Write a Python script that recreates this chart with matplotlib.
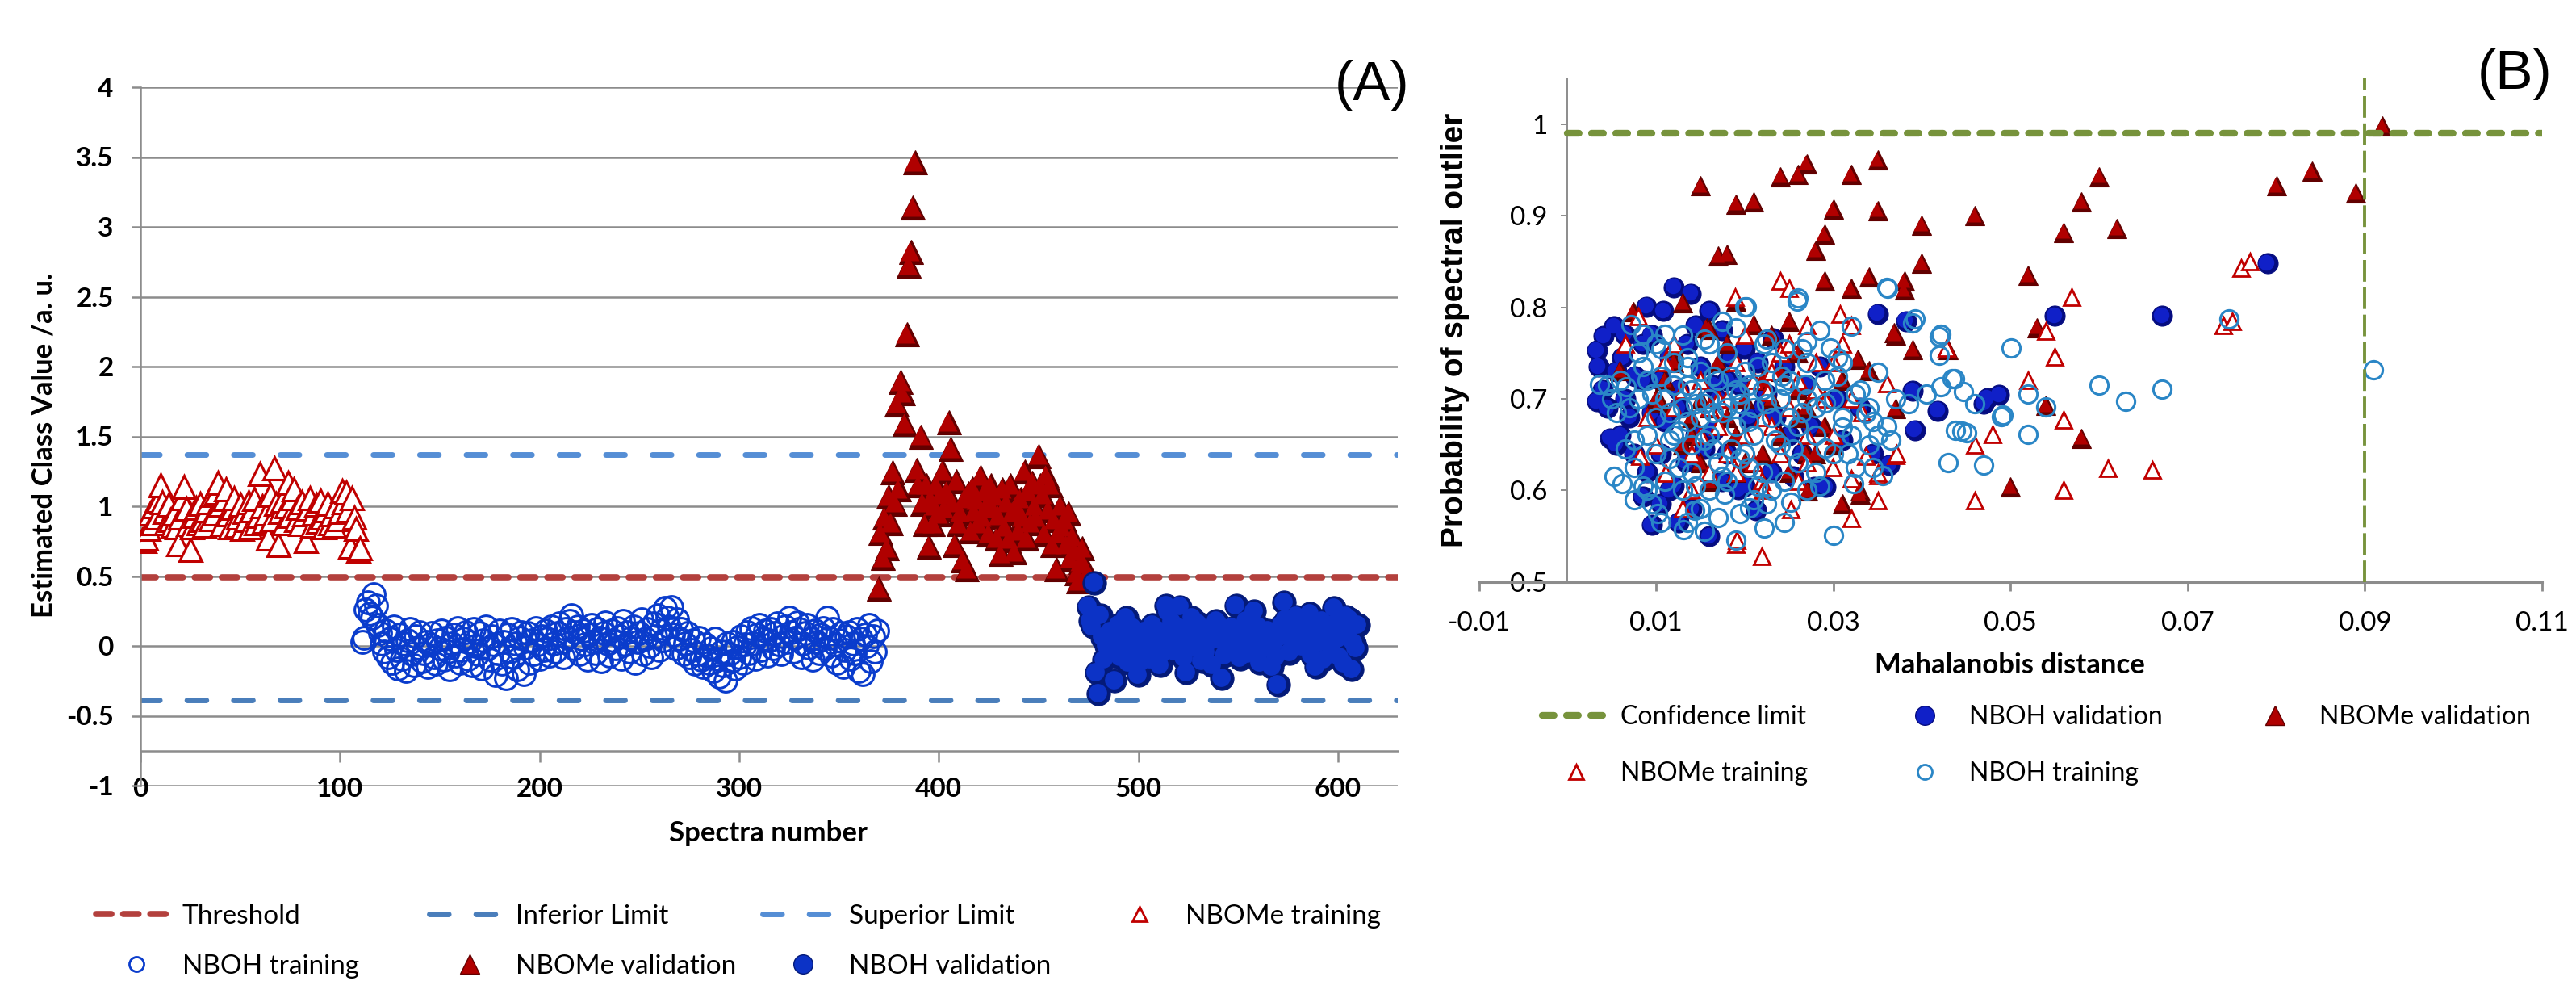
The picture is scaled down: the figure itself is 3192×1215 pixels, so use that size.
import numpy as np
import matplotlib
matplotlib.use('Agg')
import matplotlib.pyplot as plt
from matplotlib.lines import Line2D
from matplotlib.transforms import offset_copy

plt.rcParams['font.family'] = ['Lato', 'DejaVu Sans']
NARROW = ['Liberation Sans Narrow', 'Lato', 'DejaVu Sans']

# ---------------- panel A : estimated class value vs spectrum number ----------------
nbome_train_y = [0.76, 0.75, 0.77, 0.84, 0.95, 0.88, 1.00, 0.92, 1.04, 1.15,
                 1.03, 0.96, 0.88, 1.01, 0.90, 0.86, 0.95, 0.85, 0.73, 0.92,
                 1.06, 1.14, 0.98, 0.87, 0.69, 0.85, 0.93, 0.99, 0.88, 1.02,
                 0.90, 0.86, 0.97, 1.03, 0.91, 1.08, 0.95, 1.10, 1.17, 1.01,
                 0.87, 1.05, 1.12, 0.94, 0.85, 0.99, 1.06, 0.86, 0.92, 1.01,
                 0.84, 0.96, 0.90, 1.03, 0.85, 0.97, 1.05, 0.88, 0.93, 1.23,
                 1.00, 0.89, 0.95, 0.77, 1.08, 0.91, 1.27, 1.02, 0.72, 0.96,
                 1.04, 0.88, 1.00, 1.17, 0.93, 1.06, 1.12, 0.90, 0.99, 0.87,
                 1.03, 0.94, 0.75, 0.98, 1.06, 0.86, 0.95, 1.01, 0.89, 1.04,
                 0.92, 0.85, 0.97, 1.02, 0.88, 0.94, 0.86, 1.00, 0.91, 0.96,
                 1.11, 1.03, 1.10, 0.97, 0.71, 1.06, 0.92, 0.84, 0.68, 0.70]

nboh_train_y = [0.03, 0.06, 0.26, 0.31, 0.23, 0.20, 0.37, 0.29, 0.15, 0.09, 0.02, -0.04, 0.11, -0.08,
                0.05, -0.12, 0.14, -0.03, -0.16, 0.08, -0.09, 0.02, -0.18, 0.04,
                0.12, -0.06, -0.14, 0.07, -0.01, 0.10, -0.11, -0.05, 0.03, -0.15,
                0.01, 0.09, -0.08, -0.13, 0.04, -0.02, 0.11, -0.10, 0.06, -0.04,
                -0.17, 0.02, 0.08, -0.07, 0.13, -0.12, -0.03, 0.05, 0.10, -0.09,
                0.03, -0.14, 0.12, 0.00, -0.06, 0.09, -0.16, 0.04, 0.14, -0.02,
                -0.10, 0.07, 0.01, -0.21, -0.05, 0.11, -0.13, 0.03, -0.23, 0.08,
                -0.04, 0.12, -0.08, 0.02, -0.17, 0.06, 0.10, -0.20, -0.01, 0.09,
                -0.12, 0.04, -0.06, 0.13, 0.01, -0.09, 0.07, -0.03, 0.11, 0.05,
                -0.07, 0.14, 0.02, -0.04, 0.09, 0.16, 0.03, -0.08, 0.12, 0.06,
                0.18, 0.22, -0.02, 0.10, 0.14, -0.06, 0.05, 0.11, 0.01, -0.10,
                0.08, 0.15, 0.03, -0.05, 0.12, 0.06, -0.11, 0.09, 0.17, 0.02,
                -0.07, 0.11, 0.04, -0.02, 0.13, 0.07, -0.09, 0.18, 0.01, 0.10,
                -0.04, 0.06, 0.14, -0.12, 0.03, 0.09, 0.19, -0.06, 0.05, 0.12,
                0.00, -0.08, 0.16, 0.07, 0.22, -0.03, 0.11, 0.04, 0.27, 0.20,
                0.14, 0.28, 0.08, -0.02, 0.19, 0.05, 0.12, -0.06, 0.02, 0.09,
                -0.08, -0.03, 0.04, -0.13, -0.06, 0.06, -0.10, -0.15, 0.01, -0.07,
                -0.12, -0.02, -0.18, 0.05, -0.09, -0.22, -0.04, -0.14, -0.25, 0.02,
                -0.06, -0.11, 0.03, -0.16, -0.01, -0.08, 0.07, -0.12, 0.01, 0.10,
                -0.05, 0.13, 0.02, -0.09, 0.08, 0.15, -0.03, 0.05, 0.11, -0.07,
                0.04, 0.12, -0.02, 0.09, 0.16, 0.01, -0.06, 0.07, 0.14, 0.03,
                0.20, 0.10, -0.04, 0.06, 0.17, 0.12, -0.08, 0.02, 0.09, 0.15,
                -0.01, 0.05, -0.10, 0.11, 0.03, -0.05, 0.08, 0.13, -0.02, 0.20,
                0.06, -0.07, 0.12, 0.01, -0.12, 0.04, 0.09, -0.15, -0.03, 0.07,
                0.10, -0.09, 0.02, -0.05, 0.12, -0.18, 0.05, -0.20, 0.08, 0.00,
                0.15, -0.11, 0.07, -0.04, 0.11]

nbome_val_y = [0.41, 0.81, 0.63, 0.92, 0.70, 1.07, 0.88, 1.24, 1.02, 1.73,
               1.12, 1.89, 1.81, 1.59, 2.23, 2.72, 2.82, 3.14, 3.46, 1.26,
               1.15, 1.50, 1.02, 0.87, 1.15, 0.71, 1.05, 0.87, 1.00, 1.15,
               0.94, 1.08, 1.25, 0.98, 1.10, 1.60, 1.41, 1.02, 0.72, 1.18,
               0.87, 0.95, 0.61, 1.05, 0.55, 1.09, 0.82, 1.13, 0.96, 1.04,
               0.87, 1.21, 0.92, 1.10, 1.00, 0.80, 1.15, 0.98, 1.07, 0.77,
               0.93, 0.66, 1.12, 0.85, 1.02, 0.76, 1.15, 0.95, 0.67, 1.00,
               0.82, 1.05, 0.92, 1.25, 0.77, 1.10, 0.88, 1.17, 1.00, 0.92,
               1.36, 1.15, 1.08, 0.80, 1.22, 0.97, 1.15, 0.72, 0.90, 0.55,
               0.80, 1.00, 0.85, 0.90, 0.72, 0.95, 0.62, 0.78, 0.68, 0.52,
               0.46, 0.60, 0.70, 0.58, 0.50]

nboh_val_y = [0.28, 0.18, 0.14, 0.45, -0.19, -0.34, 0.22, 0.06, -0.10, 0.00,
              -0.02, 0.10, -0.05, -0.25, 0.04, 0.15, -0.08, 0.12, 0.02, 0.20,
              -0.12, 0.08, 0.13, -0.06, 0.03, -0.21, -0.12, 0.05, 0.10, -0.03,
              0.07, -0.10, 0.15, 0.06, -0.01, 0.11, -0.14, -0.06, 0.09, 0.29,
              0.24, 0.02, 0.17, -0.04, 0.08, 0.13, 0.28, 0.01, -0.09, -0.19,
              0.10, 0.05, 0.20, 0.12, -0.02, 0.16, 0.07, -0.11, 0.03, -0.05,
              0.02, 0.09, -0.14, 0.14, 0.18, 0.16, 0.04, -0.23, -0.07, 0.11,
              0.06, 0.00, 0.13, -0.03, 0.29, 0.08, -0.09, 0.12, 0.03, 0.18,
              -0.06, 0.10, -0.04, 0.25, 0.07, 0.14, -0.12, 0.02, 0.09, -0.02,
              0.11, 0.05, -0.15, 0.01, -0.08, -0.28, 0.06, 0.15, 0.31, 0.19,
              0.08, -0.05, 0.12, 0.03, 0.21, 0.15, 0.10, -0.01, 0.00, 0.17,
              0.06, 0.23, -0.07, 0.14, -0.15, 0.09, 0.02, 0.18, -0.10, 0.04,
              0.12, 0.07, -0.03, 0.27, 0.16, 0.05, -0.08, 0.11, -0.13, 0.21,
              0.08, 0.19, -0.17, 0.02, -0.02, 0.15]

threshold = 0.49
inferior_limit = -0.39
superior_limit = 1.37

# spectra are numbered one after the other, series by series
n1, n2, n3 = len(nbome_train_y), len(nboh_train_y), len(nbome_val_y)
nbome_train_x = np.arange(1, n1 + 1)
nboh_train_x = np.arange(n1 + 1, n1 + n2 + 1)
nbome_val_x = np.arange(n1 + n2 + 1, n1 + n2 + n3 + 1)
nboh_val_x = np.arange(n1 + n2 + n3 + 1, n1 + n2 + n3 + len(nboh_val_y) + 1)

# ---------------- panel B : outlier probability vs Mahalanobis distance ----------------
b_nbome_val_x = [0.092, 0.084, 0.080, 0.089, 0.060, 0.058, 0.056, 0.062, 0.046, 0.040,
                 0.040, 0.052, 0.053, 0.035, 0.035, 0.032, 0.027, 0.026, 0.024, 0.030,
                 0.029, 0.028, 0.021, 0.019, 0.015, 0.018, 0.017, 0.029, 0.032, 0.034,
                 0.038, 0.038, 0.013, 0.019, 0.025, 0.016, 0.0074, 0.037, 0.039, 0.043,
                 0.026, 0.058, 0.054, 0.050, 0.031, 0.033, 0.037, 0.012, 0.021, 0.0157,
                 0.0328, 0.034, 0.0059, 0.0105, 0.0271, 0.033, 0.0369, 0.015, 0.018, 0.022,
                 0.024, 0.027, 0.013, 0.020, 0.025, 0.028, 0.017, 0.023, 0.026, 0.011,
                 0.016, 0.019, 0.029, 0.031, 0.014,
                 0.012, 0.014, 0.016, 0.018, 0.020, 0.022, 0.024, 0.026, 0.028, 0.030,
                 0.010, 0.019, 0.023, 0.027, 0.015]
b_nbome_val_y = [0.998, 0.949, 0.933, 0.925, 0.943, 0.915, 0.882, 0.886, 0.900, 0.890,
                 0.848, 0.835, 0.778, 0.961, 0.906, 0.945, 0.957, 0.945, 0.943, 0.907,
                 0.880, 0.862, 0.915, 0.913, 0.933, 0.858, 0.856, 0.829, 0.821, 0.833,
                 0.829, 0.819, 0.805, 0.807, 0.785, 0.776, 0.795, 0.770, 0.754, 0.754,
                 0.750, 0.657, 0.693, 0.604, 0.585, 0.596, 0.689, 0.756, 0.781, 0.778,
                 0.743, 0.731, 0.731, 0.696, 0.599, 0.599, 0.772, 0.700, 0.680, 0.720,
                 0.660, 0.690, 0.650, 0.630, 0.620, 0.640, 0.740, 0.700, 0.710, 0.720,
                 0.610, 0.660, 0.670, 0.720, 0.680,
                 0.740, 0.660, 0.690, 0.760, 0.700, 0.640, 0.730, 0.680, 0.710, 0.650,
                 0.700, 0.620, 0.770, 0.640, 0.630]

b_nboh_val_x = [0.012, 0.0139, 0.0089, 0.0108, 0.016, 0.0033, 0.0041, 0.0053, 0.0033, 0.0048,
                0.0085, 0.0095, 0.016, 0.035, 0.0382, 0.039, 0.0418, 0.0392, 0.0363, 0.0474,
                0.0487, 0.0278, 0.0291, 0.0232, 0.017, 0.0076, 0.0193, 0.0213, 0.0134, 0.0105,
                0.055, 0.0671, 0.079, 0.047, 0.0062, 0.0095, 0.0115, 0.007, 0.006, 0.0125,
                0.015, 0.018, 0.020, 0.0245, 0.027, 0.022, 0.025, 0.009, 0.012, 0.014,
                0.018, 0.023, 0.0265, 0.031, 0.033, 0.0285, 0.004, 0.0055, 0.011, 0.0165,
                0.020, 0.0105,
                0.0045, 0.0065, 0.0085, 0.0105, 0.0125, 0.0145, 0.0165, 0.0185, 0.0205, 0.0225,
                0.0075, 0.0095, 0.0135, 0.0155, 0.0175, 0.0195, 0.0215, 0.0255, 0.0275, 0.0305,
                0.0345, 0.0065, 0.0115, 0.0145, 0.0175, 0.0235, 0.0035, 0.0055, 0.0085, 0.0125]
b_nboh_val_y = [0.822, 0.815, 0.801, 0.796, 0.796, 0.753, 0.769, 0.779, 0.697, 0.657,
                0.593, 0.562, 0.550, 0.793, 0.785, 0.709, 0.687, 0.666, 0.628, 0.701,
                0.704, 0.604, 0.604, 0.766, 0.699, 0.725, 0.601, 0.578, 0.631, 0.640,
                0.791, 0.791, 0.848, 0.695, 0.745, 0.770, 0.745, 0.680, 0.660, 0.710,
                0.735, 0.720, 0.755, 0.735, 0.715, 0.690, 0.660, 0.620, 0.605, 0.580,
                0.640, 0.620, 0.640, 0.655, 0.690, 0.735, 0.710, 0.730, 0.675, 0.665,
                0.605, 0.585,
                0.690, 0.700, 0.760, 0.720, 0.690, 0.660, 0.715, 0.745, 0.680, 0.705,
                0.640, 0.685, 0.760, 0.645, 0.610, 0.715, 0.740, 0.615, 0.670, 0.700,
                0.640, 0.770, 0.600, 0.780, 0.775, 0.680, 0.735, 0.650, 0.720, 0.565]

b_nbome_train_x = [0.076, 0.077, 0.074, 0.075, 0.0569, 0.054, 0.055, 0.052, 0.056, 0.048,
                   0.046, 0.061, 0.066, 0.056, 0.046, 0.035, 0.035, 0.037, 0.032, 0.0219,
                   0.019, 0.024, 0.025, 0.0308, 0.032, 0.027, 0.0189, 0.0332, 0.036, 0.0428,
                   0.0252, 0.0219, 0.0371, 0.035, 0.032, 0.0299, 0.0337, 0.0226, 0.031, 0.0082,
                   0.0111, 0.0191, 0.012, 0.015, 0.018, 0.020, 0.023, 0.025, 0.027, 0.029,
                   0.014, 0.017, 0.021, 0.024, 0.026, 0.028, 0.011, 0.016, 0.019, 0.022,
                   0.030, 0.013, 0.009, 0.0065, 0.008,
                   0.010, 0.012, 0.014, 0.016, 0.018, 0.020, 0.022, 0.024, 0.026, 0.028,
                   0.030, 0.032, 0.015, 0.019, 0.023, 0.027, 0.013, 0.021, 0.025, 0.017]
b_nbome_train_y = [0.843, 0.850, 0.780, 0.785, 0.811, 0.774, 0.746, 0.720, 0.677, 0.661,
                   0.650, 0.624, 0.622, 0.600, 0.589, 0.589, 0.616, 0.638, 0.569, 0.528,
                   0.541, 0.829, 0.821, 0.793, 0.780, 0.780, 0.811, 0.685, 0.717, 0.756,
                   0.579, 0.610, 0.640, 0.619, 0.613, 0.625, 0.637, 0.707, 0.760, 0.637,
                   0.619, 0.546, 0.690, 0.720, 0.700, 0.660, 0.730, 0.690, 0.660, 0.700,
                   0.640, 0.670, 0.630, 0.640, 0.720, 0.740, 0.740, 0.620, 0.740, 0.680,
                   0.660, 0.710, 0.680, 0.760, 0.790,
                   0.650, 0.760, 0.600, 0.690, 0.640, 0.770, 0.600, 0.750, 0.610, 0.710,
                   0.740, 0.700, 0.660, 0.620, 0.670, 0.630, 0.580, 0.720, 0.760, 0.700]

b_nboh_train_x = [0.091, 0.0671, 0.063, 0.060, 0.0501, 0.052, 0.052, 0.049, 0.054, 0.047,
                  0.043, 0.0445, 0.042, 0.042, 0.0437, 0.0747, 0.0361, 0.039, 0.0259, 0.0202,
                  0.030, 0.0392, 0.032, 0.0421, 0.027, 0.0297, 0.0421, 0.0434, 0.0447, 0.046,
                  0.0438, 0.0451, 0.0492, 0.035, 0.0356, 0.0323, 0.0053, 0.0062, 0.0036, 0.0066,
                  0.0072, 0.0085, 0.011, 0.0102, 0.0131, 0.0144, 0.019, 0.0222, 0.0206, 0.0252,
                  0.0177, 0.0222, 0.019, 0.0268, 0.0242, 0.0291, 0.031, 0.0337, 0.035, 0.0317,
                  0.0291, 0.026, 0.036, 0.020,
                  0.008, 0.009, 0.010, 0.011, 0.012, 0.012, 0.013, 0.014, 0.014, 0.015,
                  0.015, 0.016, 0.016, 0.017, 0.017, 0.018, 0.018, 0.019, 0.019, 0.020,
                  0.020, 0.021, 0.021, 0.022, 0.022, 0.023, 0.023, 0.024, 0.024, 0.025,
                  0.025, 0.026, 0.026, 0.027, 0.027, 0.028, 0.028, 0.029, 0.030, 0.030,
                  0.031, 0.031, 0.032, 0.033, 0.034, 0.034, 0.036, 0.037, 0.010, 0.011,
                  0.013, 0.014, 0.015, 0.016, 0.018, 0.017, 0.009, 0.007, 0.006, 0.005,
                  0.0045, 0.008, 0.010, 0.013, 0.016, 0.012, 0.0135, 0.0165, 0.0195, 0.0205,
                  0.0115, 0.009, 0.0075, 0.023, 0.021, 0.0245, 0.027, 0.028,
                  0.0075, 0.0085, 0.0095, 0.0105, 0.0115, 0.0125, 0.0135, 0.0145, 0.0155, 0.0165,
                  0.0175, 0.0185, 0.0195, 0.0205, 0.0215, 0.0225, 0.0235, 0.0245, 0.0255, 0.0265,
                  0.0125, 0.0145, 0.0155, 0.0175, 0.0185, 0.0135, 0.0165, 0.0115, 0.0095, 0.0105,
                  0.0205, 0.0225, 0.0245, 0.0215, 0.0195, 0.0155, 0.0135, 0.0175, 0.0285, 0.0305,
                  0.0325, 0.0345, 0.0365, 0.0385, 0.0405, 0.0265, 0.0285, 0.0305, 0.0325, 0.0345,
                  0.0065, 0.0055, 0.0075, 0.0085, 0.0105, 0.0225, 0.0245, 0.0195, 0.0155, 0.0135]
b_nboh_train_y = [0.732, 0.711, 0.697, 0.715, 0.756, 0.705, 0.661, 0.681, 0.691, 0.628,
                  0.630, 0.665, 0.768, 0.748, 0.722, 0.787, 0.821, 0.783, 0.807, 0.801,
                  0.551, 0.787, 0.779, 0.771, 0.763, 0.756, 0.713, 0.722, 0.708, 0.695,
                  0.666, 0.663, 0.682, 0.729, 0.616, 0.607, 0.615, 0.607, 0.716, 0.713,
                  0.781, 0.771, 0.771, 0.575, 0.557, 0.578, 0.546, 0.559, 0.581, 0.587,
                  0.596, 0.760, 0.778, 0.716, 0.725, 0.696, 0.669, 0.684, 0.660, 0.640,
                  0.646, 0.810, 0.822, 0.801,
                  0.700, 0.720, 0.680, 0.700, 0.660, 0.740, 0.690, 0.710, 0.650, 0.680,
                  0.730, 0.700, 0.660, 0.630, 0.720, 0.690, 0.750, 0.670, 0.710, 0.640,
                  0.730, 0.690, 0.660, 0.710, 0.620, 0.680, 0.740, 0.650, 0.700, 0.680,
                  0.720, 0.630, 0.670, 0.700, 0.740, 0.660, 0.690, 0.720, 0.640, 0.700,
                  0.680, 0.740, 0.660, 0.710, 0.650, 0.690, 0.670, 0.700, 0.640, 0.610,
                  0.600, 0.620, 0.580, 0.600, 0.610, 0.570, 0.660, 0.690, 0.720, 0.700,
                  0.715, 0.750, 0.760, 0.770, 0.760, 0.715, 0.675, 0.685, 0.695, 0.715,
                  0.655, 0.600, 0.590, 0.600, 0.590, 0.610, 0.600, 0.620,
                  0.655, 0.735, 0.705, 0.725, 0.685, 0.665, 0.745, 0.695, 0.655, 0.725,
                  0.685, 0.645, 0.705, 0.675, 0.735, 0.695, 0.655, 0.715, 0.645, 0.685,
                  0.625, 0.605, 0.765, 0.615, 0.725, 0.715, 0.645, 0.635, 0.585, 0.565,
                  0.625, 0.765, 0.755, 0.605, 0.575, 0.555, 0.565, 0.785, 0.605, 0.725,
                  0.705, 0.675, 0.655, 0.695, 0.705, 0.755, 0.775, 0.745, 0.625, 0.625,
                  0.645, 0.685, 0.625, 0.605, 0.755, 0.585, 0.565, 0.635, 0.695, 0.735]

conf_prob = 0.99
conf_dist = 0.09

# ---------------- colours ----------------
RED_OPEN = '#C00000'
RED_DARK, RED_MID = '#620000', '#B00000'
BLUE_OPEN_A = '#0A3CCC'
BLUE_DARK, BLUE_MID = '#041A78', '#0C33C6'
BLUE_OPEN_B = '#2A86C6'
BLUEB_DARK, BLUEB_MID = '#050C80', '#1020C8'
THR_COL = '#B3403D'
INF_COL = '#4A7EBB'
SUP_COL = '#558ED5'
GREEN = '#77933C'
GRID = '#8C8C8C'

fig = plt.figure(figsize=(31.92, 12.15), dpi=100)
W, H = 3192.0, 1215.0


def shaded(ax, x, y, marker, ms, dark, mid, z):
    # filled markers with a little relief, like the 3-D markers of the original
    ax.plot(x, y, ls='none', marker=marker, ms=ms, mfc=dark, mec=dark, mew=0.8, zorder=z)
    tr = offset_copy(ax.transData, fig=fig, x=-0.9, y=0.9, units='points')
    ax.plot(x, y, ls='none', marker=marker, ms=ms * 0.78, mfc=mid, mec='none',
            transform=tr, zorder=z + 0.1)


# ================= panel A =================
axA = fig.add_axes([174 / W, 1 - 973 / H, (1732 - 174) / W, (973 - 108) / H])
axA.set_xlim(0, 630)
axA.set_ylim(-1, 4)
for v in np.arange(-1, 4.01, 0.5):
    axA.axhline(v, color=GRID, lw=1.8, zorder=0)
axA.spines['top'].set_visible(False)
axA.spines['right'].set_visible(False)
axA.spines['left'].set_color(GRID)
axA.spines['left'].set_linewidth(1.8)
axA.spines['bottom'].set_position(('data', -0.75))
axA.spines['bottom'].set_color(GRID)
axA.spines['bottom'].set_linewidth(1.8)
axA.set_yticks(np.arange(-1, 4.01, 0.5))
axA.set_yticklabels(['-1', '-0.5', '0', '0.5', '1', '1.5', '2', '2.5', '3', '3.5', '4'])
axA.set_xticks(np.arange(0, 601, 100))
axA.tick_params(axis='y', direction='out', length=8, width=1.8, color=GRID, pad=16,
                labelsize=24)
axA.tick_params(axis='x', direction='out', length=10, width=1.8, color=GRID, pad=14,
                labelsize=24)
for lab in axA.get_xticklabels() + axA.get_yticklabels():
    lab.set_fontweight('bold')

axA.axhline(threshold, color=THR_COL, lw=5.5, dashes=(2.5, 1.9), dash_capstyle='round', zorder=1)
axA.axhline(inferior_limit, color=INF_COL, lw=5, dashes=(3.4, 4.9), dash_capstyle='round', zorder=1)
axA.axhline(superior_limit, color=SUP_COL, lw=5, dashes=(3.4, 4.9), dash_capstyle='round', zorder=1)

axA.plot(nbome_train_x, nbome_train_y, ls='none', marker='^', ms=20, mfc='white',
         mec=RED_OPEN, mew=2.2, zorder=3)
axA.plot(nboh_train_x, nboh_train_y, ls='none', marker='o', ms=20, mfc='none',
         mec=BLUE_OPEN_A, mew=2.2, zorder=3)
shaded(axA, nbome_val_x, nbome_val_y, '^', 22, RED_DARK, RED_MID, 4)
shaded(axA, nboh_val_x, nboh_val_y, 'o', 21, BLUE_DARK, BLUE_MID, 5)

fig.text(55 / W, 1 - 551 / H, 'Estimated Class Value /a. u.', rotation=90, ha='center',
         va='center', fontsize=25, fontweight='bold')
fig.text(952 / W, 1 - 1032 / H, 'Spectra number', ha='center', va='center', fontsize=25,
         fontweight='bold')
fig.text(1700 / W, 1 - 106 / H, '(A)', ha='center', va='center', fontsize=50,
         family=['Liberation Sans', 'DejaVu Sans'])

# ================= panel B =================
axB = fig.add_axes([1832.5 / W, 1 - 720.7 / H, (3150 - 1832.5) / W, (720.7 - 97.3) / H])
axB.set_xlim(-0.01, 0.11)
axB.set_ylim(0.5, 1.05)
axB.spines['top'].set_visible(False)
axB.spines['right'].set_visible(False)
axB.spines['left'].set_position(('data', 0))
axB.spines['left'].set_color('#8C8C8C')
axB.spines['left'].set_linewidth(1.4)
axB.spines['bottom'].set_color('#8C8C8C')
axB.spines['bottom'].set_linewidth(2.2)
axB.set_xticks(np.arange(-0.01, 0.111, 0.02))
axB.set_xticklabels(['-0.01', '0.01', '0.03', '0.05', '0.07', '0.09', '0.11'])
axB.set_yticks(np.arange(0.5, 1.001, 0.1))
axB.set_yticklabels(['0.5', '0.6', '0.7', '0.8', '0.9', '1'])
axB.tick_params(axis='x', direction='out', length=8, width=2, color='#8C8C8C', pad=18,
                labelsize=24)
axB.tick_params(axis='y', direction='out', length=6, width=1.4, color='#8C8C8C', pad=12,
                labelsize=24)
for lab in axB.get_xticklabels() + axB.get_yticklabels():
    lab.set_family(NARROW)

x0, x1 = axB.get_xlim()
axB.axhline(conf_prob, xmin=(0 - x0) / (x1 - x0), xmax=1, color=GREEN, lw=6,
            dashes=(1.77, 1.84), dash_capstyle='round', zorder=6)
axB.axvline(conf_dist, color=GREEN, lw=2.8, dashes=(6.9, 1.8), zorder=6)

shaded(axB, b_nboh_val_x, b_nboh_val_y, 'o', 18, BLUEB_DARK, BLUEB_MID, 2)
shaded(axB, b_nbome_val_x, b_nbome_val_y, '^', 17, RED_DARK, RED_MID, 3)
axB.plot(b_nbome_train_x, b_nbome_train_y, ls='none', marker='^', ms=15, mfc='white',
         mec=RED_OPEN, mew=2.0, zorder=4)
axB.plot(b_nboh_train_x, b_nboh_train_y, ls='none', marker='o', ms=16, mfc='none',
         mec=BLUE_OPEN_B, mew=2.2, zorder=5)

fig.text(2490 / W, 1 - 824 / H, 'Mahalanobis distance', ha='center', va='center',
         fontsize=25, fontweight='bold', family=NARROW)
fig.text(1803 / W, 1 - 409 / H, 'Probability of spectral outlier', rotation=90, ha='center',
         va='center', fontsize=28, fontweight='bold',
         family=['Liberation Sans', 'DejaVu Sans'])
fig.text(3116 / W, 1 - 92 / H, '(B)', ha='center', va='center', fontsize=50,
         family=['Liberation Sans', 'DejaVu Sans'])


# ================= legends (one small legend per entry, laid out like the original) ====
def entry(handle, label, x_left, y_mid, fs, hl, pad, family=None):
    prop = {'size': fs}
    if family:
        prop['family'] = family
    fig.legend([handle], [label], loc='center left', bbox_to_anchor=(x_left / W, 1 - y_mid / H),
               frameon=False, handlelength=hl, handletextpad=pad, borderpad=0,
               borderaxespad=0, prop=prop)


h_thr = Line2D([], [], color=THR_COL, lw=5.5, dashes=(2.5, 1.9), dash_capstyle='round')
h_inf = Line2D([], [], color=INF_COL, lw=5, dashes=(3.4, 4.9), dash_capstyle='round')
h_sup = Line2D([], [], color=SUP_COL, lw=5, dashes=(3.4, 4.9), dash_capstyle='round')
h_me_tr = Line2D([], [], ls='none', marker='^', ms=13, mfc='white', mec=RED_OPEN, mew=2)
h_oh_tr = Line2D([], [], ls='none', marker='o', ms=13, mfc='none', mec=BLUE_OPEN_A, mew=2)
h_me_va = Line2D([], [], ls='none', marker='^', ms=17, mfc=RED_MID, mec=RED_DARK, mew=1)
h_oh_va = Line2D([], [], ls='none', marker='o', ms=17, mfc=BLUE_MID, mec=BLUE_DARK, mew=1)

rowA1, rowA2 = 1135, 1197
entry(h_thr, 'Threshold', 119, rowA1, 24, 3.0, 0.2)
entry(h_inf, 'Inferior Limit', 532, rowA1, 24, 3.0, 0.2)
entry(h_sup, 'Superior Limit', 945, rowA1, 24, 3.0, 0.2)
entry(h_me_tr, 'NBOMe training', 1362, rowA1, 24, 3.0, 0.2)
entry(h_oh_tr, 'NBOH training', 119, rowA2, 24, 3.0, 0.2)
entry(h_me_va, 'NBOMe validation', 532, rowA2, 24, 3.0, 0.2)
entry(h_oh_va, 'NBOH validation', 945, rowA2, 24, 3.0, 0.2)

h_conf = Line2D([], [], color=GREEN, lw=6, dashes=(1.77, 1.84), dash_capstyle='round')
h_b_oh_va = Line2D([], [], ls='none', marker='o', ms=17, mfc=BLUEB_MID, mec=BLUEB_DARK, mew=1)
h_b_me_va = Line2D([], [], ls='none', marker='^', ms=17, mfc=RED_MID, mec=RED_DARK, mew=1)
h_b_me_tr = Line2D([], [], ls='none', marker='^', ms=13, mfc='white', mec=RED_OPEN, mew=2)
h_b_oh_tr = Line2D([], [], ls='none', marker='o', ms=13, mfc='none', mec=BLUE_OPEN_B, mew=2)

rowB1, rowB2 = 888, 958
entry(h_conf, 'Confidence limit', 1911, rowB1, 23, 2.6, 0.45, NARROW)
entry(h_b_oh_va, 'NBOH validation', 2343, rowB1, 23, 2.6, 0.45, NARROW)
entry(h_b_me_va, 'NBOMe validation', 2777, rowB1, 23, 2.6, 0.45, NARROW)
entry(h_b_me_tr, 'NBOMe training', 1911, rowB2, 23, 2.6, 0.45, NARROW)
entry(h_b_oh_tr, 'NBOH training', 2343, rowB2, 23, 2.6, 0.45, NARROW)

fig.savefig('out.png', dpi=100, facecolor='white')
